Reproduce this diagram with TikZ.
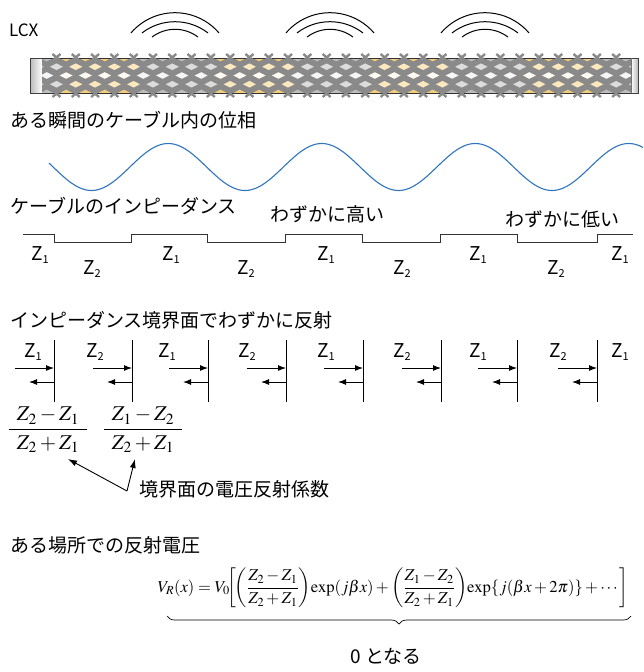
\documentclass[tikz,border=0pt]{standalone}
\usepackage{amsmath}
\usepackage{mathptmx}
\usepackage[no-math]{fontspec}
\newfontfamily\jp{Noto Sans CJK JP}
\usetikzlibrary{arrows.meta,decorations.pathreplacing,calc}

% braid colours: y = copper-tinted section, g = grey section; 0 edge row, 1 inner row, 2 centre row
\definecolor{strand}{HTML}{8A8A8A}
\definecolor{y0}{HTML}{F2CD7C}
\definecolor{y1}{HTML}{FCE8BE}
\definecolor{y2}{HTML}{FFFBF2}
\definecolor{g0}{HTML}{BEBEBE}
\definecolor{g1}{HTML}{DCDCDC}
\definecolor{g2}{HTML}{F6F6F6}
\definecolor{wave}{RGB}{46,117,190}

\newcommand\Zs[1]{Z\raisebox{-0.18em}{\fontsize{11}{11}\selectfont #1}}
\newcommand\padded[1]{\mkern7mu#1\mkern7mu}

\begin{document}
\begin{tikzpicture}[x=1pt,y=-1pt,
  title/.style={font=\jp\fontsize{19}{21}\selectfont, inner sep=0pt, anchor=west},
  zlab/.style={font=\jp\fontsize{19}{21}\selectfont, inner sep=0pt},
  boundary/.style={line width=0.9pt},
  wavefront/.style={line width=1pt},
  fwd/.style={line width=1pt, -{Latex[length=8pt,width=6pt]}},
  pointer/.style={line width=0.9pt, -{Latex[length=9pt,width=6pt]}},
  mathlbl/.style={inner sep=0pt, font=\fontsize{21}{24}\selectfont}]
\useasboundingbox (0,0) rectangle (643,672);

% ---------------- leaky coaxial cable ----------------
\node[font=\jp\fontsize{17}{19}\selectfont, inner sep=0pt, anchor=west] (lcx) at (9,30) {LCX};

% radiated wave fronts above the slots
\foreach \cx in {175,330,485} {
  \draw[wavefront] ([shift={(220.7:58)}]\cx,70.7) arc[start angle=220.7, end angle=319.3, radius=58];
  \draw[wavefront] ([shift={(232.3:54)}]\cx,75.7) arc[start angle=232.3, end angle=307.7, radius=54];
  \draw[wavefront] ([shift={(232.8:38)}]\cx,67.3) arc[start angle=232.8, end angle=307.2, radius=38];
}

% end caps
\shade[left color=gray!55, right color=white, draw=black!75, line width=0.7pt] (30,58) rectangle (42,93);
\shade[left color=white, right color=gray!55, draw=black!75, line width=0.7pt] (631,58) rectangle (638,93);

% braided outer conductor, section by section
\foreach \xa/\xb/\t in {42/62/g,62/138/y,138/216/g,216/293/y,293/370/g,370/447/y,447/525/g,525/602/y,602/631/g} {
  \begin{scope}
    \clip (\xa,58) rectangle (\xb,93);
    \fill[strand] (\xa,58) rectangle (\xb,93);
    \pgfmathtruncatemacro\ka{(\xa-42)/19.3-1}
    \pgfmathtruncatemacro\kb{(\xb-42)/19.3+1}
    \foreach \m/\r in {0/0,1/1,2/2,3/1,4/0} {
      \edef\hc{\t\r}
      \foreach \k in {\ka,...,\kb} {
        \pgfmathsetmacro\hx{42+(\k+0.5*mod(\m,2))*19.3+4.8}
        \pgfmathsetmacro\hy{58+\m*8.75}
        \fill[\hc] (\hx-6.5,\hy) -- (\hx,\hy-3.3) -- (\hx+6.5,\hy) -- (\hx,\hy+3.3) -- cycle;
      }
    }
  \end{scope}
  \draw[black!55, line width=0.5pt] (\xb,58) -- (\xb,93);
}
\draw[black!80, line width=0.8pt] (42,58) -- (631,58) (42,93) -- (631,93);

% strand crossings poking out at the edges
\foreach \k in {0,...,30} {
  \pgfmathsetmacro\tx{42+\k*19.3+4.8+9.65}
  \ifdim\tx pt<630pt
    \draw[strand, line width=2.4pt] (\tx-4,54) -- (\tx+3,60) (\tx+4,54) -- (\tx-3,60);
    \draw[strand, line width=2.4pt] (\tx-4,97) -- (\tx+3,91) (\tx+4,97) -- (\tx-3,91);
  \fi
}

% ---------------- phase along the cable ----------------
\node[title] (phase) at (10,120) {ある瞬間のケーブル内の位相};
\draw[wave, line width=1.1pt] plot[domain=49:643, samples=240, smooth] (\x,{167+23.5*cos(2.34528*(\x-91.5))});

% ---------------- impedance profile ----------------
\node[title] (imp) at (10,206) {ケーブルのインピーダンス};
\node[title] (high) at (270,214) {わずかに高い};
\node[title] (low) at (505,219) {わずかに低い};
\draw[black!80, line width=0.9pt]
  (23,234) -- (54,234) -- (54,242) -- (131,242) -- (131,234) -- (207,234) -- (207,242)
  -- (285,242) -- (285,234) -- (362,234) -- (362,242) -- (440,242) -- (440,234)
  -- (517,234) -- (517,242) -- (597,242) -- (597,234) -- (633,234);
\foreach \x/\s/\y [count=\i] in {40/1/255,92/2/269,171/1/255,246/2/269,326/1/255,402/2/269,478/1/255,556/2/269,620/1/255}
  \node[zlab] (zi\i) at (\x,\y) {\Zs{\s}};

% ---------------- reflections at each boundary ----------------
\node[title] (refl) at (10,320) {インピーダンス境界面でわずかに反射};
\foreach \bx [count=\i] in {54,132,208,286,363,441,517,597} {
  \coordinate (bt\i) at (\bx,340);
  \coordinate (bb\i) at (\bx,402);
  \coordinate (ra\i) at (\bx-39,368);
  \coordinate (rb\i) at (\bx,368);
  \coordinate (la\i) at (\bx,382);
  \coordinate (lb\i) at (\bx-25,382);
  \draw[boundary] (bt\i) -- (bb\i);
  \draw[fwd] (ra\i) -- (rb\i);
  \draw[fwd] (la\i) -- (lb\i);
}
\foreach \x/\s [count=\i] in {33/1,95/2,167/1,247/2,326/1,402/2,478/1,558/2,620/1}
  \node[zlab] (zb\i) at (\x,352) {\Zs{\s}};

% reflection coefficients
\node[mathlbl] (g1) at (48,430) {$\dfrac{\padded{Z_2-Z_1}}{\padded{Z_2+Z_1}}$};
\node[mathlbl] (g2) at (143,430) {$\dfrac{\padded{Z_1-Z_2}}{\padded{Z_2+Z_1}}$};
\coordinate (jn) at (127,491);
\coordinate (t1) at (68,459);
\coordinate (t2) at (135,459);
\draw[pointer] (jn) -- (t1);
\draw[pointer] (jn) -- (t2);
\node[title] (coef) at (139,489) {境界面の電圧反射係数};

% ---------------- resulting reflected voltage ----------------
\node[title] (place) at (10,545) {ある場所での反射電圧};
\node[inner sep=0pt, font=\fontsize{16.6}{20}\selectfont] (eq) at (393,588)
  {$V_R(x)=V_0\mkern-2mu{\left[\mkern-2mu{\left(\dfrac{Z_2-Z_1}{Z_2+Z_1}\right)}\mkern-2mu\exp(j\beta x)+{\left(\dfrac{Z_1-Z_2}{Z_2+Z_1}\right)}\mkern-2mu\exp\{j(\beta x+2\pi)\}+\cdots\right]}$};
\coordinate (bl) at (167,616);
\coordinate (br) at (631,616);
\draw[line width=0.7pt, decorate, decoration={brace, mirror, amplitude=8pt}] (bl) -- (br);
\node[title, anchor=center] (zero) at (386,656) {0 となる};
\end{tikzpicture}
\end{document}
